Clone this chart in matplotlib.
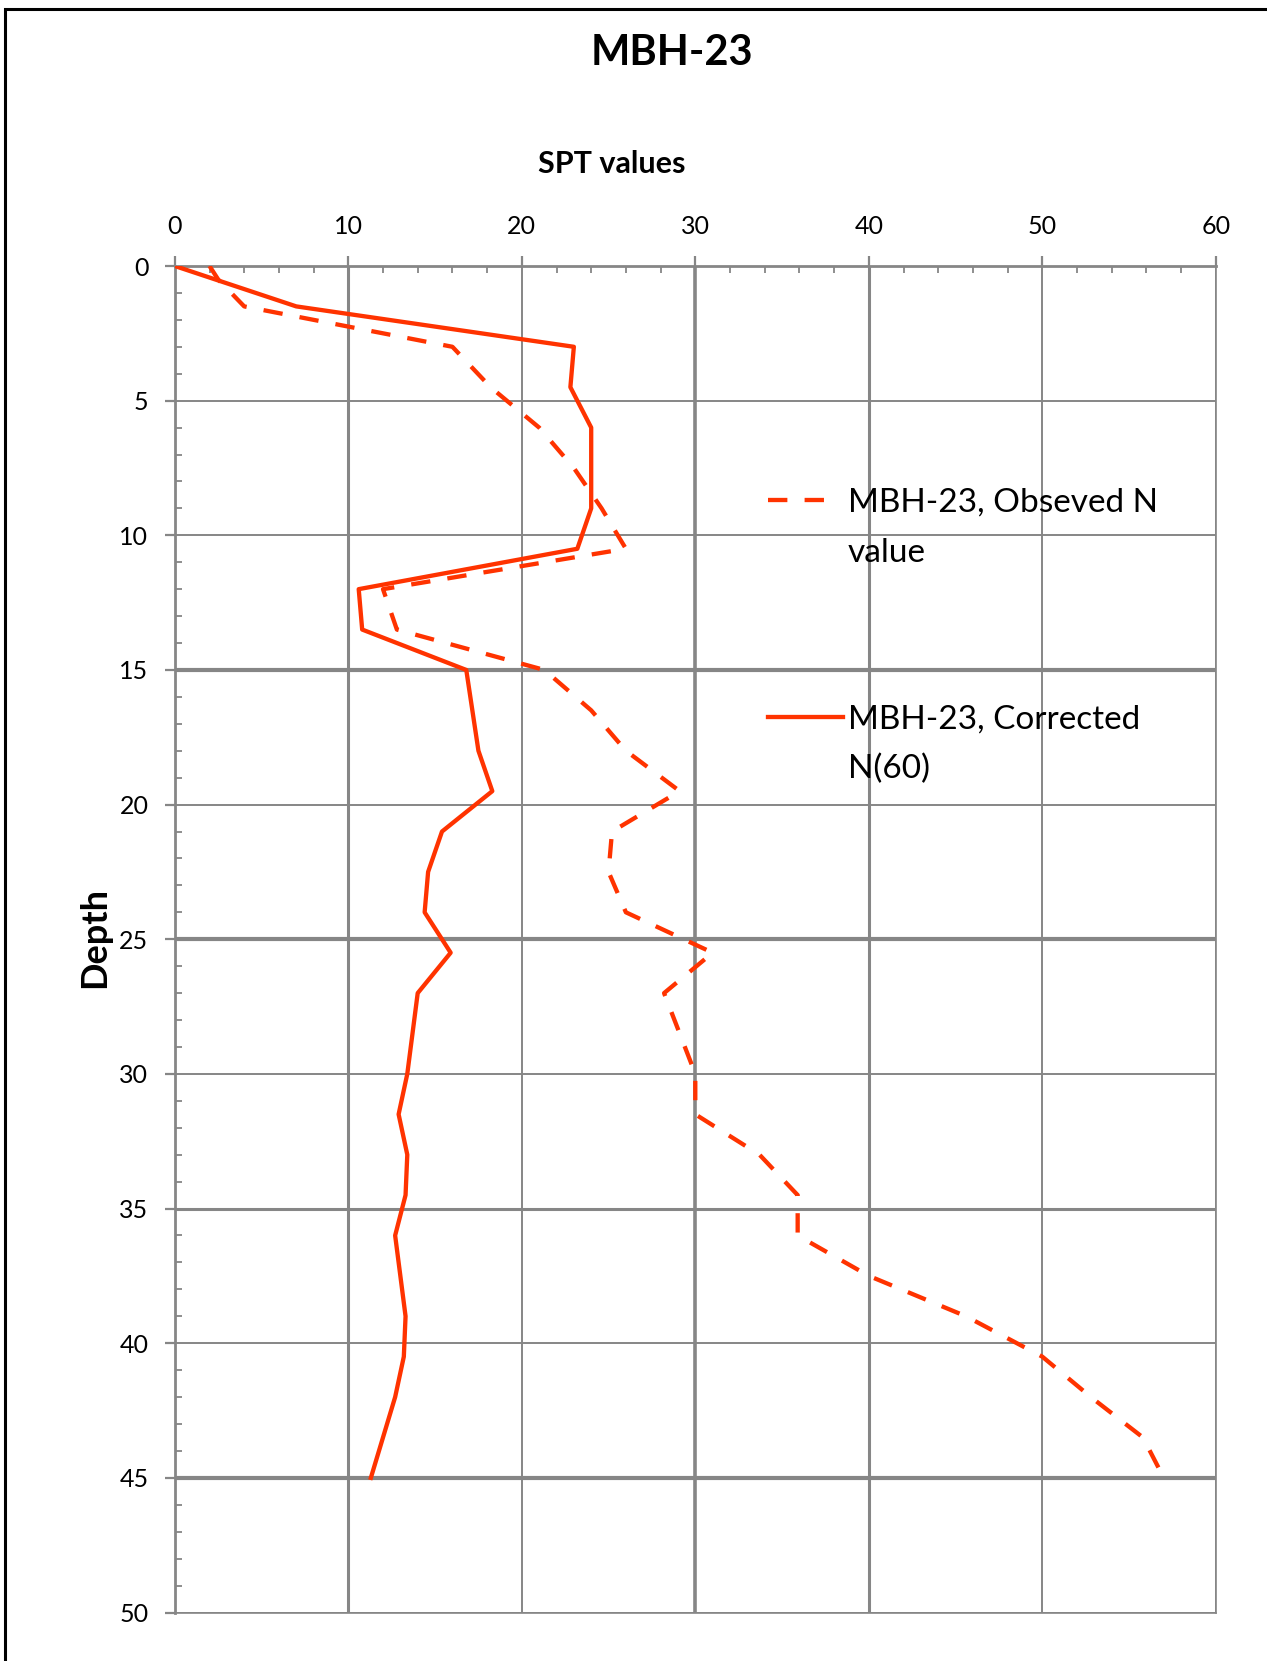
import matplotlib
matplotlib.use("Agg")
import matplotlib.pyplot as plt
from matplotlib.lines import Line2D
from matplotlib.patches import Rectangle
from matplotlib.ticker import MultipleLocator

plt.rcParams['font.family'] = ['Lato', 'DejaVu Sans']

# SPT data (depth in m)
depth_obs = [0, 0.5, 1.5, 3, 4.5, 6, 7.5, 9, 10.5, 12, 13.5, 15, 16.5, 18, 19.5, 21,
             22.5, 24, 25.5, 27, 28.5, 30, 31.5, 33, 34.5, 36, 37.5, 39, 40.5, 42,
             43.5, 45]
n_obs = [2, 2.5, 4, 16, 18.2, 21, 23, 24.6, 26, 12, 12.8, 21.3, 24, 26, 29.1, 25.2,
         25, 26, 31, 28.2, 29.1, 30, 30, 33.7, 35.9, 35.9, 40, 45.6, 50, 52.8,
         55.8, 57]

depth_corr = [0, 1.5, 3, 4.5, 6, 9, 10.5, 12, 13.5, 15, 18, 19.5, 21, 22.5, 24, 25.5,
              27, 30, 31.5, 33, 34.5, 36, 39, 40.5, 42, 45]
n60 = [0, 7, 23, 22.8, 24, 24, 23.2, 10.6, 10.8, 16.8, 17.5, 18.3, 15.4, 14.6, 14.4,
       15.9, 14, 13.4, 12.9, 13.4, 13.3, 12.7, 13.3, 13.2, 12.7, 11.3]

label_obs = ["MBH-23, Obseved N", "value"]
label_corr = ["MBH-23, Corrected", "N(60)"]

red = '#FF3300'
grey = '#868686'
W, H = 1267, 1661

fig = plt.figure(figsize=(W / 100, H / 100), dpi=100)
ax = fig.add_axes([174.8 / W, 1 - 1612.5 / H, 1041 / W, 1346.5 / H])

ax.plot(n_obs, depth_obs, color=red, lw=3.1, linestyle=(0, (4.5, 4.0)), zorder=3)
ax.plot(n60, depth_corr, color=red, lw=3.1, zorder=3)

ax.set_xlim(0, 60)
ax.set_ylim(50, 0)
ax.xaxis.set_major_locator(MultipleLocator(10))
ax.xaxis.set_minor_locator(MultipleLocator(2))
ax.yaxis.set_major_locator(MultipleLocator(5))
ax.yaxis.set_minor_locator(MultipleLocator(1))
ax.xaxis.tick_top()

ax.tick_params(which='major', direction='out', length=7, width=1.6, color=grey,
               labelsize=18, labelcolor='black')
ax.tick_params(axis='x', which='major', pad=13)
ax.tick_params(axis='y', which='major', pad=12)
ax.tick_params(which='minor', direction='in', length=5, width=1.3, color=grey)
ax.tick_params(axis='x', which='minor', top=True, bottom=False)

ax.grid(True, which='major', color=grey, lw=1.4, zorder=1)
# gridline weights vary in the original image
xw = {10: 2.2, 30: 2.6, 40: 2.2}
yw = {15: 3.0, 25: 3.0, 35: 2.2, 45: 3.0}
for loc, gl in zip(ax.get_xticks(), ax.get_xgridlines()):
    gl.set_linewidth(xw.get(int(round(loc)), 1.4))
for loc, gl in zip(ax.get_yticks(), ax.get_ygridlines()):
    gl.set_linewidth(yw.get(int(round(loc)), 1.4))

for side in ['top', 'left']:
    ax.spines[side].set_color(grey)
    ax.spines[side].set_linewidth(2)
for side in ['bottom', 'right']:
    ax.spines[side].set_color(grey)
    ax.spines[side].set_linewidth(1.2)

# titles
fig.text(672 / W, 1 - 65 / H, "MBH-23", fontsize=30, fontweight='bold',
         ha='center', va='baseline')
fig.text(612 / W, 1 - 173 / H, "SPT values", fontsize=22, fontweight='bold',
         ha='center', va='baseline')
fig.text(94.5 / W, 1 - 937 / H, "Depth", fontsize=26, fontweight='bold',
         rotation=90, ha='center', va='center')

# legend, drawn by hand so the key sits on the first text line
fig.add_artist(Line2D([768 / W, 826 / W], [1 - 500 / H, 1 - 500 / H], color=red,
                      lw=3.1, linestyle=(0, (4.5, 4.0)), transform=fig.transFigure))
fig.add_artist(Line2D([768 / W, 843 / W], [1 - 717 / H, 1 - 717 / H], color=red,
                      lw=3.1, transform=fig.transFigure))
for i, line in enumerate(label_obs):
    fig.text(848 / W, 1 - (511.7 + 50 * i) / H, line, fontsize=24, va='baseline')
for i, line in enumerate(label_corr):
    fig.text(848 / W, 1 - (728.3 + 50 * i) / H, line, fontsize=24, va='baseline')

# outer frame (cut off at right and bottom in the original)
fig.add_artist(Rectangle((5 / W, -0.1), 1.2, 1.1 - 9 / H, fill=False,
                         edgecolor='black', lw=2.2, transform=fig.transFigure))

fig.savefig("out.png", dpi=100)
